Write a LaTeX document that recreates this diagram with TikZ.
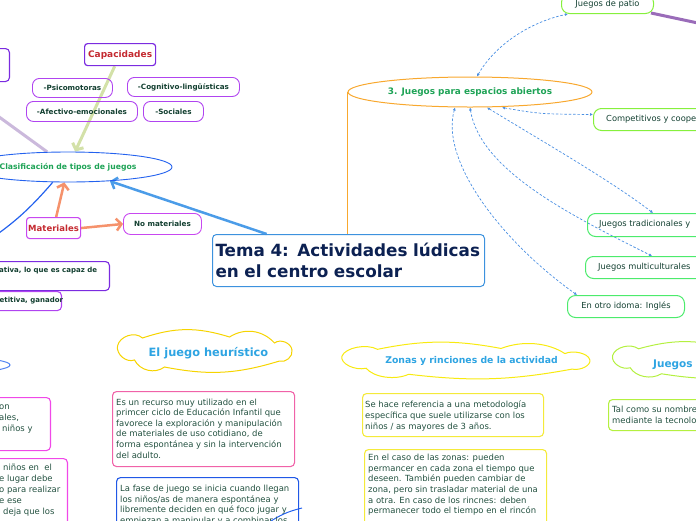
\documentclass[tikz,border=0pt]{standalone}
\usepackage{fontspec}
\setmainfont{DejaVu Sans}
\usetikzlibrary{shapes.geometric,arrows.meta,calc}
\pgfdeclarelayer{bg}
\pgfsetlayers{bg,main}
\definecolor{purpA}{HTML}{7B2BE0}
\definecolor{violB}{HTML}{B044F0}
\definecolor{magB}{HTML}{C848F0}
\definecolor{dred}{HTML}{C42A30}
\definecolor{dgreen}{HTML}{123F30}
\definecolor{tgreen}{HTML}{22503F}
\definecolor{eblue}{HTML}{2462EE}
\definecolor{egreen}{HTML}{1EA356}
\definecolor{salm}{HTML}{F5926C}
\definecolor{lgreen}{HTML}{D3E1A8}
\definecolor{lav}{HTML}{CBB9DC}
\definecolor{tblue}{HTML}{4B9CE8}
\definecolor{navy}{HTML}{0C2152}
\definecolor{temab}{HTML}{3C92DE}
\definecolor{orng}{HTML}{F8A82E}
\definecolor{lime}{HTML}{86F03C}
\definecolor{bgreen}{HTML}{4CEB6C}
\definecolor{dblue}{HTML}{4A8FE2}
\definecolor{purl}{HTML}{9A6CB9}
\definecolor{cyel}{HTML}{F6D400}
\definecolor{cyel2}{HTML}{F8EA10}
\definecolor{clime}{HTML}{B4F040}
\definecolor{ctext}{HTML}{2EA4E2}
\definecolor{pinkb}{HTML}{F062A8}
\definecolor{magl}{HTML}{F048E8}
\definecolor{bbox}{HTML}{2058E6}
\definecolor{ybox}{HTML}{F4EA3A}
\newcommand\fsz[2]{\fontsize{#1}{#2}\selectfont}
\newcommand\cloudshape[4]{%
  \begin{scope}[shift={#2}, xscale=#3, yscale=#4]
  \draw[#1, line width=1pt] (-87,-5) to[bend left=60] (-62,-13) to[bend left=18] (25,-14)
     to[bend left=40] (70,-8) to[bend left=60] (87.5,-1) to[bend left=60] (75,10)
     to[bend left=14] (-40,16) to[bend left=50] (-70,9) to[bend left=60] (-87,-5) -- cycle;
  \end{scope}}
\tikzset{
  pill/.style={draw=violB, line width=0.9pt, rounded corners=7pt, inner sep=0pt, anchor=north west, font=\fsz{7.2}{8}\bfseries, text=dgreen},
  boxn/.style={anchor=north west, line width=1.1pt, rounded corners=4pt, inner sep=0pt},
  body/.style={font=\fsz{8.45}{10.6}, text=tgreen, align=left, inner sep=0pt, anchor=north west},
  gnode/.style={draw, line width=1pt, rounded corners=8pt, anchor=north west, font=\fsz{8.3}{9}, text=dgreen, inner sep=0pt},
  gtext/.style={font=\fsz{8.3}{9}, text=dgreen, inner sep=0pt, anchor=west},
  ctxt/.style={text=ctext, inner sep=0pt},
  barb/.style={-{Straight Barb[length=5pt,width=12pt]}},
  dsh/.style={draw=dblue, line width=0.7pt, dash pattern=on 2.5pt off 1.8pt, {Latex[length=3pt,width=3pt]}-{Latex[length=3pt,width=3pt]}},
  cut/.style={font=\fsz{7}{8}\bfseries, text=dgreen, inner sep=0pt, anchor=west}
}
\begin{document}
\begin{tikzpicture}[x=1pt,y=-1pt]
\useasboundingbox (0,0) rectangle (696,520);
\clip (0,0) rectangle (696,520);

% ---------- left cluster ----------
\node[boxn, draw=purpA, anchor=north east, minimum width=60pt, minimum height=33pt] (tlbox) at (10,48) {};
\node[boxn, draw=purpA, line width=1.2pt, rounded corners=3pt, minimum width=71pt, minimum height=22pt, text=dred, font=\fsz{9}{10}\bfseries] (cap) at (84,43) {Capacidades};
\node[pill, minimum width=80pt, minimum height=19pt] (psico) at (32,78) {-Psicomotoras};
\node[pill, minimum width=112pt, minimum height=19pt] (cogn) at (127,77) {-Cognitivo-lingüísticas};
\node[pill, minimum width=111pt, minimum height=20pt] (afec) at (26,101) {-Afectivo-emocionales};
\node[pill, minimum width=60pt, minimum height=20pt] (soc) at (143,101) {-Sociales};
\node[ellipse, draw=eblue, line width=0.9pt, minimum width=208pt, minimum height=30pt, inner sep=0pt, text=egreen, font=\fsz{7.7}{9}\bfseries] (clas) at (68,167) {Clasificación de tipos de juegos};
\node[boxn, draw=magB, rounded corners=3pt, minimum width=54pt, minimum height=21pt, text=dred, font=\fsz{8.5}{10}\bfseries] (mat) at (26,217) {Materiales};
\node[pill, draw=magB, minimum width=78pt, minimum height=21pt] (nomat) at (123,213) {No materiales};
\node[boxn, draw=purpA, anchor=north east, minimum width=150pt, minimum height=29pt] (coop) at (110,261) {};
\node[cut] (coopt) at (-1,271) {ativa, lo que es capaz de};
\node[boxn, draw=violB, anchor=north east, minimum width=100pt, minimum height=19pt] (comp) at (62,291) {};
\node[cut] (compt) at (-0.5,301) {etitiva, ganador};

% ---------- central title ----------
\node[boxn, draw=temab, line width=1pt, minimum width=272pt, minimum height=52pt, text width=266pt, inner xsep=3pt, align=left, text=navy, font=\fsz{16.8}{21}\bfseries] (tema) at (212,234) {Tema 4: Actividades lúdicas\\en el centro escolar};

% ---------- open spaces cluster ----------
\node[ellipse, draw=orng, line width=1pt, minimum width=244pt, minimum height=30pt, inner sep=0pt, text=egreen, font=\fsz{8.9}{10}\bfseries] (esp) at (470,92) {3. Juegos para espacios abiertos};
\node[gnode, draw=lime, minimum width=92pt, minimum height=19pt] (patio) at (561,-6) {Juegos de patio};
\node[gnode, draw=lime, minimum width=130pt, minimum height=22pt] (compet) at (593,108) {};
\node[gtext] (compett) at (606,119) {Competitivos y coope};
\node[gnode, draw=bgreen, minimum width=125pt, minimum height=23pt] (trad) at (587,213) {};
\node[gtext] (tradt) at (599,224.5) {Juegos tradicionales y};
\node[gnode, draw=bgreen, minimum width=125pt, minimum height=22pt] (multi) at (585,256) {};
\node[gtext] (multit) at (598,267) {Juegos multiculturales};
\node[gnode, draw=bgreen, minimum width=117pt, minimum height=22pt] (ingl) at (567,295) {En otro idoma: Inglés};

% ---------- clouds ----------
\cloudshape{cyel}{(204.5,351)}{1}{1}
\node[ctxt, font=\fsz{11.4}{13}\bfseries] (heur) at (208.5,353) {El juego heurístico};
\cloudshape{cyel2}{(465.5,360.5)}{1.42}{0.86}
\node[ctxt, font=\fsz{9.3}{11}\bfseries] (zonas) at (471.5,361) {Zonas y rinciones de la actividad};
\cloudshape{clime}{(703,360)}{1.04}{0.86}
\node[ctxt, font=\fsz{10.5}{12}\bfseries, anchor=west] (tecnt) at (653,365) {Juegos t};

% ---------- lower boxes ----------
\node[ellipse, draw=eblue!80, line width=1pt, minimum width=90pt, minimum height=14pt] (lell) at (-35,365) {};
\node[boxn, draw=magl, anchor=north east, minimum width=100pt, minimum height=53pt] (lb1) at (51,397) {};
\node[body] (lb1t) at (-1,405) {on\\ales,\\\hspace*{3pt}niños y};
\node[boxn, draw=magl, anchor=north east, minimum width=120pt, minimum height=90pt] (lb2) at (68,458) {};
\node[body, font=\fsz{8.45}{11}] (lb2t) at (-1,464) {\hspace*{4pt}niños en\ \ el\\e lugar debe\\o para realizar\\e ese\\\hspace*{4pt}deja que los};

\node[boxn, draw=pinkb, minimum width=182pt, minimum height=75pt] (hb1) at (112,391) {};
\node[body] (hb1t) at (116,398.5) {Es un recurso muy utilizado en el\\primcer ciclo de Educación Infantil que\\favorece la exploración y manipulación\\de materiales de uso cotidiano, de\\forma espontánea y sin la intervención\\del adulto.};
\node[boxn, draw=bbox, minimum width=182pt, minimum height=80pt] (hb2) at (116,477) {};
\node[body] (hb2t) at (120,485) {La fase de juego se inicia cuando llegan\\los niños/as de manera espontánea y\\libremente deciden en qué foco jugar y\\empiezan a manipular y a combinar los};

\node[boxn, draw=ybox, minimum width=181pt, minimum height=43pt] (zb1) at (362,393) {};
\node[body] (zb1t) at (365,401) {Se hace referencia a una metodología\\específica que suele utilizarse con los\\niños / as mayores de 3 años.};
\node[boxn, draw=ybox, minimum width=182pt, minimum height=90pt] (zb2) at (364,449) {};
\node[body] (zb2t) at (368,454) {En el caso de las zonas: pueden\\permancer en cada zona el tiempo que\\deseen. También pueden cambiar de\\zona, pero sin trasladar material de una\\a otra. En caso de los rincnes: deben\\permanecer todo el tiempo en el rincón};

\node[boxn, draw=clime, minimum width=150pt, minimum height=31pt] (tb1) at (608,399) {};
\node[body] (tb1t) at (612,406) {Tal como su nombre\\mediante la tecnolo};

% ---------- connectors ----------
\begin{pgfonlayer}{bg}
\coordinate (lavs) at (-60,74);
\draw[lav, line width=3pt] (lavs) -- (clas);
\draw[lgreen, line width=3pt, barb] (cap) -- (clas);
\coordinate (bls) at (-20,246);
\draw[eblue, line width=1.2pt] (clas.225) to[bend left=8] (bls);
\draw[salm, line width=2.5pt, barb] (mat) -- (clas);
\draw[salm, line width=2.5pt, barb] (mat.east) -- (nomat.west);
\coordinate (tp) at ($(tema.north west)!0.2!(tema.north east)$);
\draw[tblue, line width=2.5pt, barb] (tp) -- (clas);
\draw[orng, line width=1.2pt] (esp.west) -- (esp.west |- tema.north);
\coordinate (pr) at (740,32);
\draw[purl, line width=3pt] ($(patio.south east)+(-3,-1)$) -- (pr);
\draw[dsh] ($(esp.north)+(7,0)$) .. controls (495,45) and (530,22) .. ($(patio.south west)+(7,0)$);
\draw[dsh] ($(esp.south)+(32,0)$) .. controls (540,114) .. ($(compet.west)+(0,-5)$);
\draw[dsh] ($(esp.south)+(17,0)$) .. controls (540,140) and (610,180) .. ($(trad.north west)+(66,0)$);
\draw[dsh] (esp.south) .. controls (480,170) and (570,215) .. ($(multi.north west)+(67,0)$);
\draw[dsh] ($(esp.south)+(-15,0)$) .. controls (440,160) and (500,240) .. ($(ingl.north west)+(10,0)$);
\coordinate (arcA) at (268,523);
\coordinate (arcB) at (302,508);
\draw[eblue, line width=1pt] (arcA) to[bend left=10] (arcB);
\end{pgfonlayer}
\end{tikzpicture}
\end{document}
